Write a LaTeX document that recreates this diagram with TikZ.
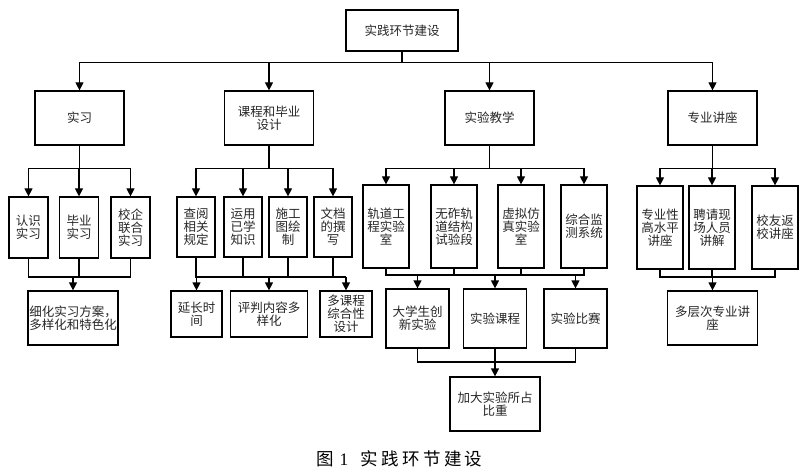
\documentclass[tikz,border=0pt]{standalone}
\usepackage{fontspec}
\newfontfamily\cjk{Noto Sans CJK SC}
\newfontfamily\latinserif{Liberation Serif}
\usetikzlibrary{arrows.meta}
\tikzset{
  box/.style={draw, line width=1.2pt, align=center, inner sep=0pt,
    font=\cjk\fontsize{12.5}{13}\selectfont, text=black!85},
  arr/.style={line width=1.2pt, -{Triangle[length=8pt,width=8pt]}},
  ln/.style={line width=1.2pt},
}
\begin{document}
\begin{tikzpicture}[x=1pt,y=-1pt]
\useasboundingbox (0,0) rectangle (800,473);
% top
\node[box, minimum width=112pt, minimum height=41pt] (top) at (402,30.5) {实践环节建设};
% level 2
\tikzset{l2/.style={box, minimum width=89pt, minimum height=54pt}}
\node[l2] (sx) at (79.5,118) {实习};
\node[l2] (kc) at (269,118) {课程和毕业\\设计};
\node[l2] (sy) at (489.5,118) {实验教学};
\node[l2] (zy) at (712.5,118) {专业讲座};
\foreach \n in {sx,kc,sy,zy} \draw[arr] (top.south) -- ++(0,11) -| (\n.north);
% 实习 branch
\tikzset{l3a/.style={box, minimum width=39pt, minimum height=61pt}}
\node[l3a] (rs) at (28.5,227.5) {认识\\实习};
\node[l3a] (by) at (79,227.5) {毕业\\实习};
\node[l3a] (xq) at (130.5,227.5) {校企\\联合\\实习};
\foreach \n in {rs,by,xq} \draw[arr] (sx.south) -- ++(0,23) -| (\n.north);
\node[box, minimum width=90pt, minimum height=54pt] (xh) at (73,318) {细化实习方案，\\多样化和特色化};
\coordinate (b1) at (0,277);
\draw[ln] (rs.south) -- (rs.south |- b1) -- (xq.south |- b1) -- (xq.south);
\draw[ln] (by.south) -- (by.south |- b1);
\draw[arr] (xh.north |- b1) -- (xh.north);
% 课程 branch
\tikzset{l3b/.style={box, minimum width=38pt, minimum height=60pt}}
\node[l3b] (cy) at (196,227) {查阅\\相关\\规定};
\node[l3b] (yy) at (243,227) {运用\\已学\\知识};
\node[l3b] (sg) at (288,227) {施工\\图绘\\制};
\node[l3b] (wd) at (333,227) {文档\\的撰\\写};
\foreach \n in {cy,yy,sg,wd} \draw[arr] (kc.south) -- ++(0,23) -| (\n.north);
\tikzset{l4b/.style={box, minimum height=46pt}}
\node[l4b, minimum width=51pt] (yc) at (196.5,314) {延长时\\间};
\node[l4b, minimum width=77pt] (pp) at (269,314) {评判内容多\\样化};
\node[l4b, minimum width=52pt] (dk) at (346,314) {多课程\\综合性\\设计};
\coordinate (b2) at (0,277);
\draw[ln] (cy.south) -- (cy.south |- b2) -- (dk.north |- b2);
\foreach \n in {yy,sg,wd} \draw[ln] (\n.south) -- (\n.south |- b2);
\foreach \n in {yc,pp,dk} \draw[arr] (\n.north |- b2) -- (\n.north);
% 实验教学 branch
\tikzset{l3c/.style={box, minimum width=46pt, minimum height=83pt}}
\node[l3c] (gd) at (386,226.5) {轨道工\\程实验\\室};
\node[l3c] (wz) at (454,226.5) {无砟轨\\道结构\\试验段};
\node[l3c] (xn) at (521,226.5) {虚拟仿\\真实验\\室};
\node[l3c] (zh) at (584,226.5) {综合监\\测系统};
\foreach \n in {gd,wz,xn,zh} \draw[arr] (sy.south) -- ++(0,23) -| (\n.north);
\tikzset{l4c/.style={box, minimum width=63pt, minimum height=59pt}}
\node[l4c] (dx) at (417.5,318.5) {大学生创\\新实验};
\node[l4c] (kcx) at (495,318.5) {实验课程};
\node[l4c] (bs) at (575.5,318.5) {实验比赛};
\coordinate (b3) at (0,275);
\draw[ln] (gd.south) -- (gd.south |- b3) -- (zh.south |- b3) -- (zh.south);
\foreach \n in {wz,xn} \draw[ln] (\n.south) -- (\n.south |- b3);
\foreach \n in {dx,kcx,bs} \draw[arr] (\n.north |- b3) -- (\n.north);
\node[box, minimum width=90pt, minimum height=54pt] (jd) at (495,404) {加大实验所占\\比重};
\coordinate (b4) at (0,362);
\draw[ln] (dx.south) -- (dx.south |- b4) -- (bs.south |- b4) -- (bs.south);
\draw[arr] (kcx.south) -- (jd.north);
% 专业讲座 branch
\tikzset{l3d/.style={box, minimum width=46pt, minimum height=83pt}}
\node[l3d] (gs) at (660,227.5) {专业性\\高水平\\讲座};
\node[l3d] (pq) at (712,227.5) {聘请现\\场人员\\讲解};
\node[l3d] (xy) at (775,227.5) {校友返\\校讲座};
\foreach \n in {gs,pq,xy} \draw[arr] (zy.south) -- ++(0,23) -| (\n.north);
\node[box, minimum width=90pt, minimum height=54pt] (dc) at (712.5,318) {多层次专业讲\\座};
\coordinate (b5) at (0,277);
\draw[ln] (gs.south) -- (gs.south |- b5) -- (xy.south |- b5) -- (xy.south);
\draw[ln] (pq.south) -- (pq.south |- b5);
\draw[arr] (dc.north |- b5) -- (dc.north);
% caption
\node[anchor=west, inner sep=0pt, font=\cjk\fontsize{17.5}{17.5}\selectfont] (cap) at (316,459)
  {图\hspace{6pt}{\latinserif 1}\hspace{12pt}实\hspace{3.4pt}践\hspace{3.4pt}环\hspace{3.4pt}节\hspace{3.4pt}建\hspace{3.4pt}设};
\end{tikzpicture}
\end{document}
